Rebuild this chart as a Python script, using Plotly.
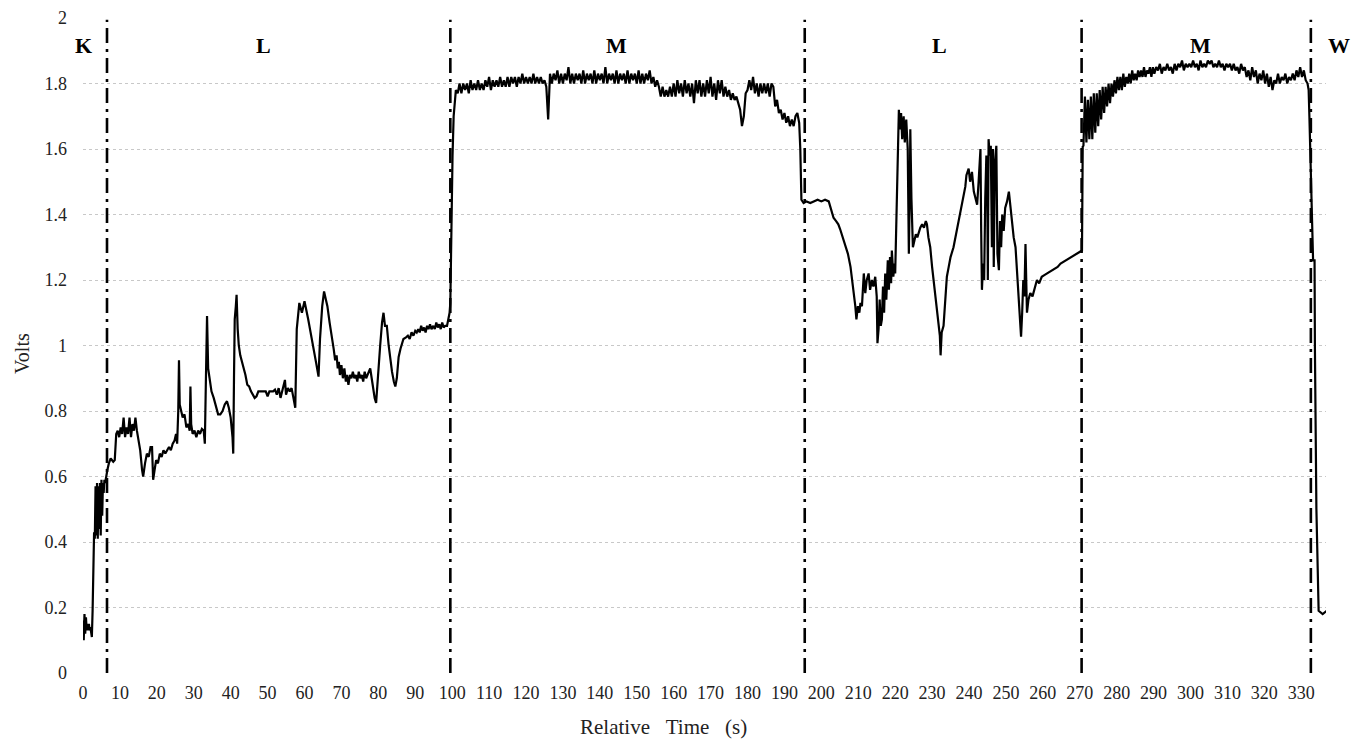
import plotly.graph_objects as go

# ---------------- data ----------------
# K phase (explicit time / volts)
k_t = [0.0, 0.2, 0.4, 0.6, 0.8, 1.0, 1.2, 1.4, 1.6, 1.8, 2.0, 2.2, 2.4, 2.6, 2.8, 3.0, 3.2, 3.4,
       3.6, 3.8, 4.0, 4.2, 4.4, 4.6, 4.8, 5.0, 5.2, 5.4, 5.6, 5.8, 6.0, 6.3]
k_v = [0.16, 0.10, 0.18, 0.12, 0.17, 0.13, 0.15, 0.13, 0.15, 0.13, 0.14, 0.12, 0.11, 0.19, 0.37, 0.43,
       0.41, 0.57, 0.42, 0.58, 0.41, 0.57, 0.44, 0.58, 0.42, 0.59, 0.48, 0.58, 0.55, 0.59, 0.58, 0.61]

# first L phase
l1_t = [6.6, 7.0, 7.5, 8.2, 8.6, 9.0, 9.4, 9.8, 10.2, 10.6, 11.0, 11.4, 11.8, 12.2, 12.6, 13.0, 13.4,
        13.8, 14.2, 14.6, 15.0, 15.5, 16.0, 16.3, 16.8, 17.3, 17.8, 18.3, 18.7, 19.0, 19.4, 19.8, 20.3,
        20.8, 21.3, 21.8, 22.3, 22.8, 23.3, 23.8, 24.3, 24.8, 25.2, 25.5, 25.8, 26.0, 26.2, 26.6, 27.0,
        27.5, 28.0, 28.5, 28.9, 29.1, 29.3, 29.7, 30.2, 30.7, 31.2, 31.7, 32.2, 32.7, 33.0, 33.3, 33.6,
        33.9, 34.3, 34.8, 35.4, 36.0, 36.6, 37.2, 37.8, 38.4, 39.0, 39.5, 40.0, 40.5, 40.7, 40.9, 41.1,
        41.4, 41.6, 41.9, 42.2, 42.6, 43.0, 43.5, 44.0, 44.5, 45.0, 45.5, 46.0, 46.5, 47.0, 47.5, 48.5,
        49.5, 50.0, 50.5, 51.5, 52.0, 52.5, 53.0, 53.5, 54.0, 54.7, 55.0, 55.5, 56.0, 56.5, 57.0, 57.5,
        57.9, 58.6, 59.3, 60.0, 61.0, 61.7, 62.4, 63.1, 63.8, 64.2, 64.8, 65.3, 65.8, 66.2, 66.8, 67.4,
        67.9, 68.3, 68.7, 69.0, 69.3, 69.6, 70.0, 70.4, 70.8, 71.2, 71.5, 71.9, 72.3, 72.7, 73.1, 73.5,
        73.9, 74.3, 74.7, 75.1, 75.5, 75.9, 76.3, 76.7, 77.1, 77.5, 77.8, 78.2, 78.7, 79.0, 79.4, 79.8,
        80.5, 81.0, 81.4, 81.8, 82.3, 82.8, 83.2, 83.7, 84.2, 84.6, 85.0, 85.5, 86.0, 86.8, 87.5, 88.0,
        88.5, 89.0, 89.5, 90.0, 90.4, 90.8, 91.2, 91.6, 92.0, 92.4, 92.8, 93.2, 93.6, 94.0, 94.4, 94.9,
        95.3, 95.7, 96.1, 96.5, 96.9, 97.3, 97.7, 98.1, 98.6, 99.0, 99.3, 99.5, 99.7, 99.9, 100.1,
        100.4, 100.7, 101.0]
l1_v = [0.62, 0.64, 0.655, 0.645, 0.65, 0.73, 0.74, 0.72, 0.75, 0.73, 0.78, 0.72, 0.75, 0.73, 0.78, 0.72,
        0.76, 0.74, 0.78, 0.74, 0.71, 0.68, 0.62, 0.60, 0.64, 0.67, 0.66, 0.69, 0.69, 0.59, 0.62, 0.65,
        0.64, 0.67, 0.66, 0.68, 0.67, 0.68, 0.69, 0.68, 0.70, 0.71, 0.73, 0.70, 0.80, 0.955, 0.82, 0.80,
        0.78, 0.79, 0.75, 0.76, 0.74, 0.875, 0.76, 0.73, 0.74, 0.72, 0.74, 0.73, 0.745, 0.74, 0.70, 0.90,
        1.09, 0.93, 0.89, 0.86, 0.84, 0.81, 0.79, 0.79, 0.80, 0.82, 0.83, 0.81, 0.78, 0.72, 0.67, 0.90,
        1.08, 1.12, 1.155, 1.05, 1.00, 0.97, 0.955, 0.93, 0.91, 0.88, 0.875, 0.86, 0.85, 0.84, 0.845,
        0.86, 0.86, 0.86, 0.845, 0.86, 0.86, 0.865, 0.85, 0.87, 0.84, 0.86, 0.895, 0.85, 0.87, 0.86,
        0.87, 0.84, 0.81, 1.05, 1.13, 1.10, 1.135, 1.08, 1.04, 1.00, 0.95, 0.905, 1.02, 1.12, 1.165,
        1.14, 1.12, 1.07, 1.03, 0.99, 0.955, 0.97, 0.93, 0.95, 0.91, 0.94, 0.90, 0.93, 0.89, 0.91, 0.88,
        0.91, 0.90, 0.92, 0.90, 0.91, 0.89, 0.92, 0.90, 0.91, 0.89, 0.92, 0.90, 0.91, 0.92, 0.93, 0.90,
        0.855, 0.84, 0.825, 0.90, 1.00, 1.07, 1.10, 1.06, 1.06, 1.00, 0.955, 0.92, 0.89, 0.875, 0.90,
        0.965, 0.99, 1.02, 1.025, 1.03, 1.02, 1.04, 1.03, 1.045, 1.04, 1.05, 1.04, 1.06, 1.045, 1.055,
        1.04, 1.06, 1.05, 1.065, 1.05, 1.06, 1.05, 1.07, 1.055, 1.065, 1.05, 1.07, 1.055, 1.06, 1.06,
        1.08, 1.10, 1.13, 1.30, 1.44, 1.58, 1.70, 1.75, 1.78]

# first M phase: samples every 0.5 s starting at 101.5 s
m1_t0, m1_dt = 101.5, 0.5
m1_v = [1.77, 1.80, 1.77, 1.80, 1.78, 1.80, 1.77, 1.81, 1.78, 1.80, 1.78, 1.81, 1.78, 1.80, 1.78, 1.81,
        1.79, 1.82, 1.78, 1.81, 1.79,
        1.81, 1.79, 1.82, 1.79, 1.81, 1.79, 1.82, 1.79, 1.82, 1.80, 1.82, 1.79, 1.82, 1.80, 1.83, 1.80,
        1.82, 1.80, 1.82, 1.80, 1.83, 1.80, 1.82, 1.80,
        1.82, 1.80, 1.81, 1.79,
        1.69,
        1.83, 1.80, 1.83, 1.81, 1.84, 1.80, 1.83, 1.80, 1.83, 1.81,
        1.85, 1.80, 1.83, 1.80, 1.83, 1.81, 1.83, 1.80, 1.84, 1.80,
        1.83, 1.81, 1.83, 1.80, 1.84, 1.80, 1.83, 1.81, 1.83, 1.80,
        1.85, 1.80, 1.83, 1.81, 1.83, 1.80, 1.84, 1.80, 1.83, 1.81,
        1.83, 1.80, 1.84, 1.80, 1.83, 1.81, 1.83, 1.80, 1.84, 1.80,
        1.83, 1.80, 1.83, 1.81, 1.84, 1.80, 1.82, 1.79, 1.81,
        1.79, 1.76, 1.79, 1.76, 1.78, 1.76, 1.79, 1.76,
        1.80, 1.76, 1.81, 1.77, 1.80, 1.76, 1.81, 1.77, 1.80, 1.76, 1.80, 1.74, 1.81, 1.77, 1.81, 1.76,
        1.80, 1.76, 1.81, 1.77, 1.82, 1.76, 1.80, 1.75, 1.81, 1.77, 1.81, 1.76,
        1.79, 1.76, 1.78, 1.75, 1.77, 1.75, 1.76, 1.74,
        1.72, 1.67, 1.70, 1.77,
        1.78, 1.81, 1.78, 1.82, 1.77, 1.80, 1.76, 1.80, 1.77, 1.80, 1.77, 1.80, 1.76, 1.80,
        1.79, 1.73, 1.75, 1.71, 1.72, 1.69, 1.71, 1.68, 1.70, 1.67, 1.69, 1.67, 1.70, 1.71, 1.68]

# second L phase
l2_t = [194.3, 194.6, 195.2, 196.0, 197.0, 198.0, 199.0, 200.0, 201.0, 202.0, 202.6, 203.3, 204.0,
        204.6, 205.1, 205.8, 206.5, 207.2, 207.9, 208.4, 208.8, 209.2, 209.5, 209.9, 210.3, 210.6,
        211.0, 211.3, 211.5, 211.9, 212.3, 212.8, 213.2, 213.7, 214.1, 214.6, 215.0, 215.2, 215.5,
        215.8, 216.1, 216.4, 216.7, 217.0, 217.3, 217.6, 218.0, 218.3, 218.6, 218.9, 219.1, 219.5,
        219.8, 220.0, 220.3, 220.7, 221.0, 221.3, 221.6, 221.9, 222.3, 222.6, 223.0, 223.4, 223.7,
        224.0, 224.1, 224.4, 224.8, 225.2, 225.6, 226.0, 226.4, 226.8, 227.3, 227.8, 228.3, 228.6,
        229.0, 229.5, 230.0, 230.5, 230.9, 231.3, 231.8, 232.1, 232.3, 232.6, 233.1, 233.5, 234.0,
        234.5, 235.0, 235.8, 236.5, 237.2, 237.7, 238.2, 238.6, 239.0, 239.3, 239.9, 240.3, 240.8,
        241.3, 241.8, 242.2, 242.6, 242.9, 243.1, 243.3, 243.5, 243.8, 244.1, 244.4, 244.7, 244.9,
        245.1, 245.3, 245.6, 245.9, 246.2, 246.5, 246.7, 247.0, 247.4, 247.7, 248.1, 248.4, 248.7,
        249.0, 249.4, 249.8, 250.3, 250.8, 251.2, 251.7, 252.1, 252.6, 253.0, 253.5, 253.8, 254.1,
        254.4, 254.7, 255.0, 255.3, 255.5, 255.7, 256.1, 256.6, 257.2, 257.8, 258.4, 259.0, 259.7,
        260.4, 261.1, 261.8, 262.5, 263.2, 264.0, 264.8, 265.5, 266.2, 267.0, 267.7, 268.4, 269.2,
        270.0, 270.6, 270.8]
l2_v = [1.60, 1.445, 1.435, 1.44, 1.435, 1.44, 1.445, 1.44, 1.445, 1.44, 1.42, 1.39, 1.38, 1.37, 1.355,
        1.33, 1.31, 1.28, 1.24, 1.20, 1.16, 1.12, 1.08, 1.12, 1.10, 1.13, 1.12, 1.18, 1.22, 1.16, 1.20,
        1.22, 1.17, 1.20, 1.18, 1.21, 1.15, 1.007, 1.05, 1.14, 1.06, 1.08, 1.18, 1.10, 1.22, 1.14, 1.26,
        1.17, 1.27, 1.19, 1.29, 1.21, 1.25, 1.22, 1.40, 1.58, 1.72, 1.66, 1.71, 1.63, 1.70, 1.62, 1.69,
        1.60, 1.28, 1.50, 1.66, 1.45, 1.30, 1.32, 1.34, 1.33, 1.35, 1.36, 1.37, 1.36, 1.38, 1.37, 1.33,
        1.30, 1.24, 1.19, 1.16, 1.12, 1.08, 1.03, 0.97, 1.04, 1.06, 1.14, 1.21, 1.24, 1.27, 1.30, 1.34,
        1.38, 1.40, 1.44, 1.46, 1.485, 1.52, 1.54, 1.50, 1.53, 1.47, 1.45, 1.43, 1.50, 1.57, 1.60, 1.35,
        1.17, 1.25, 1.20, 1.45, 1.58, 1.55, 1.20, 1.63, 1.58, 1.61, 1.30, 1.60, 1.24, 1.55, 1.61, 1.28,
        1.23, 1.38, 1.30, 1.40, 1.35, 1.42, 1.44, 1.47, 1.42, 1.37, 1.33, 1.30, 1.22, 1.14, 1.08, 1.027,
        1.10, 1.20, 1.15, 1.31, 1.20, 1.10, 1.14, 1.16, 1.15, 1.18, 1.20, 1.19, 1.21, 1.215, 1.22, 1.225,
        1.23, 1.235, 1.24, 1.25, 1.255, 1.26, 1.265, 1.27, 1.276, 1.28, 1.285, 1.29, 1.607]

# second M phase: dense part every 0.4 s from 271.0 s, then every 0.5 s from 290.2 s
m2a_t0, m2a_dt = 271.0, 0.4
m2a_v = [1.61, 1.76, 1.62, 1.75, 1.63, 1.76, 1.63, 1.77, 1.65, 1.77, 1.67, 1.78, 1.69, 1.79, 1.71, 1.79,
         1.73, 1.80, 1.74, 1.80, 1.76, 1.81, 1.77, 1.82, 1.78, 1.82, 1.78, 1.83, 1.79, 1.82, 1.80, 1.83,
         1.80, 1.84, 1.81, 1.83, 1.81, 1.84, 1.82, 1.84, 1.82, 1.85, 1.82, 1.84, 1.83, 1.85, 1.82, 1.85]
m2b_t0, m2b_dt = 290.2, 0.5
m2b_v = [1.83, 1.85, 1.84, 1.86, 1.83, 1.85, 1.84, 1.86, 1.84, 1.85, 1.83, 1.86, 1.84, 1.86, 1.85, 1.87,
         1.84, 1.86, 1.85, 1.86,
         1.85, 1.87, 1.85, 1.86, 1.84, 1.87, 1.85, 1.86, 1.85, 1.87, 1.86, 1.87, 1.85, 1.86, 1.85, 1.87,
         1.85, 1.86, 1.84, 1.86,
         1.85, 1.86, 1.84, 1.86, 1.84, 1.85, 1.83, 1.86, 1.84, 1.85, 1.82, 1.84, 1.81, 1.85, 1.82, 1.84,
         1.80, 1.83, 1.81, 1.84,
         1.80, 1.83, 1.79, 1.82, 1.78, 1.81, 1.80, 1.83, 1.80, 1.82, 1.81, 1.83, 1.80, 1.82, 1.81, 1.83,
         1.81, 1.84, 1.82, 1.85,
         1.82, 1.84, 1.81, 1.80]

# W phase
w_t = [332.0, 332.2, 332.4, 332.6, 332.8, 333.0, 333.2, 333.6, 333.7, 334.1, 334.3, 334.5, 334.7, 335.8, 336.9]
w_v = [1.78, 1.70, 1.60, 1.50, 1.40, 1.30, 1.26, 1.26, 0.99, 0.50, 0.35, 0.33, 0.19, 0.18, 0.19]

# phase boundaries and labels
boundaries = [6.5, 99.5, 195.5, 270.5, 332.6]
phase_labels = ["K", "L", "M", "L", "M"]
phase_label_x = [0.0, 48.8, 144.4, 232.0, 302.7]
last_label = "W"          # sits just past the right end of the axis
phase_label_y = 1.915

x_ticks = list(range(0, 331, 10))
y_ticks = [0, 0.2, 0.4, 0.6, 0.8, 1, 1.2, 1.4, 1.6, 1.8, 2]
y_tick_text = ["0", "0.2", "0.4", "0.6", "0.8", "1", "1.2", "1.4", "1.6", "1.8", "2"]

# ---------------- assemble series ----------------
m1_t = [m1_t0 + i * m1_dt for i in range(len(m1_v))]
m2a_t = [m2a_t0 + i * m2a_dt for i in range(len(m2a_v))]
m2b_t = [m2b_t0 + i * m2b_dt for i in range(len(m2b_v))]

t_all = k_t + l1_t + m1_t + l2_t + m2a_t + m2b_t + w_t
v_all = k_v + l1_v + m1_v + l2_v + m2a_v + m2b_v + w_v

font_family = "Liberation Serif, Times New Roman, serif"

fig = go.Figure()
fig.add_trace(go.Scatter(x=t_all, y=v_all, mode="lines",
                         line=dict(color="black", width=2.2),
                         showlegend=False, hoverinfo="skip"))

for b in boundaries:
    fig.add_shape(type="line", xref="x", yref="y", x0=b, x1=b, y0=0, y1=1.995,
                  line=dict(color="black", width=2.6, dash="15px,6px,3px,6px"))

for lab, lx in zip(phase_labels, phase_label_x):
    fig.add_annotation(x=lx, y=phase_label_y, xref="x", yref="y", text="<b>%s</b>" % lab,
                       showarrow=False, xanchor="center",
                       font=dict(family=font_family, size=22, color="black"))
fig.add_annotation(x=1.0105, y=phase_label_y, xref="paper", yref="y", text="<b>%s</b>" % last_label,
                   showarrow=False, xanchor="center",
                   font=dict(family=font_family, size=22, color="black"))

fig.add_annotation(x=0.467, y=0.0, xref="paper", yref="paper", yshift=-68, xanchor="center",
                   text="Relative\u00a0\u00a0\u00a0Time\u00a0\u00a0\u00a0(s)", showarrow=False,
                   font=dict(family=font_family, size=21, color="#222"))
fig.add_annotation(x=0, y=0.487, xref="paper", yref="paper", xshift=-74,
                   text="Volts", textangle=-90, showarrow=False,
                   font=dict(family=font_family, size=20, color="#222"))

# page body adds an 8 px offset, margins compensate for it
fig.update_layout(
    width=1359, height=742,
    margin=dict(l=75, r=41, t=10, b=77),
    paper_bgcolor="white", plot_bgcolor="white",
    font=dict(family=font_family, size=18, color="#222"),
)
fig.update_xaxes(range=[0, 336.7], tickvals=x_ticks, ticktext=[str(v) for v in x_ticks],
                 showgrid=False, zeroline=False, showline=False, ticks="", automargin=False,
                 tickfont=dict(size=18), ticklabelstandoff=7)
fig.update_yaxes(range=[0, 2], tickvals=y_ticks, ticktext=y_tick_text,
                 showgrid=True, gridcolor="#c8c8c8", griddash="dot", gridwidth=1, automargin=False,
                 zeroline=False, showline=False, ticks="", tickfont=dict(size=18),
                 ticklabelstandoff=15)

fig.write_html("out.html")
